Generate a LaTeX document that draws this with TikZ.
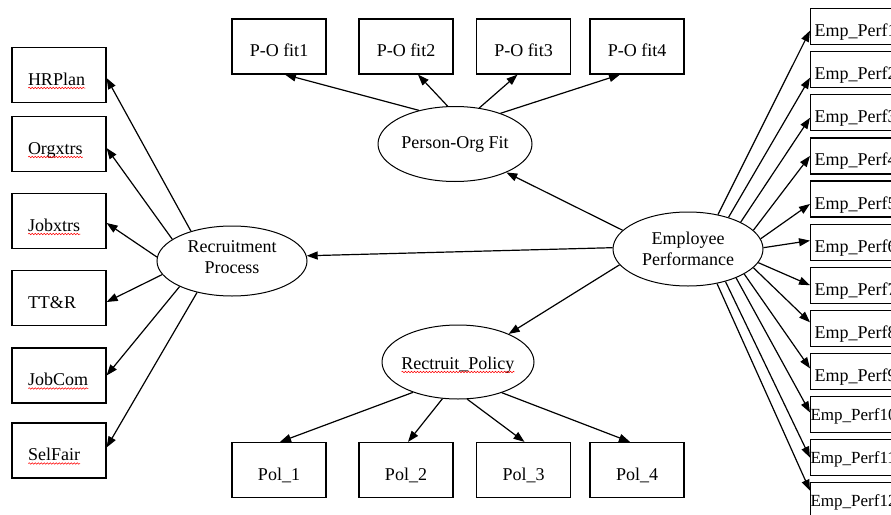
\documentclass[tikz,border=0pt]{standalone}
\usepackage{fontspec}
\setmainfont{Liberation Serif}
\usetikzlibrary{arrows.meta,shapes.geometric,decorations.pathmorphing}
\newlength\sqwlen
\newcommand\sqw[1]{\settowidth\sqwlen{#1}\rlap{#1}\tikz[baseline=0pt]{\draw[red,line width=0.5pt,decorate,decoration={snake,amplitude=0.8pt,segment length=3pt}] (0pt,-3pt) -- (\sqwlen,-3pt);}}
\begin{document}
\begin{tikzpicture}[x=1pt,y=-1pt,
  >={Triangle[length=11pt,width=8pt]},
  bx/.style={draw, line width=1.2pt, rectangle, inner ysep=0pt, text height=24pt, text depth=4pt, font=\fontsize{18}{22}\selectfont},
  lbox/.style={bx, minimum height=55pt, text width=62pt, inner xsep=16pt, align=left},
  tbox/.style={bx, minimum width=94pt, minimum height=55pt, inner xsep=2pt},
  ebox/.style={bx, minimum height=36pt, minimum width=100pt, text width=96pt, inner xsep=4pt, align=left, anchor=north west},
  esbox/.style={ebox, inner xsep=0pt, text width=104pt, text height=16pt, font=\fontsize{17}{20}\selectfont},
  lat/.style={draw, ellipse, line width=1pt, inner sep=0pt, align=center, font=\fontsize{18}{21}\selectfont},
  arr/.style={->, line width=1.2pt},
]
\useasboundingbox (0,0) rectangle (891,514);
\clip (0,0) rectangle (891,514);
\fill[white] (0,0) rectangle (891,514);

% latent variables
\node[lat, minimum width=150pt, minimum height=70pt, text depth=8pt] (rp) at (232,261) {Recruitment\\Process};
\node[lat, minimum width=154pt, minimum height=75pt] (pof) at (455,144) {Person-Org Fit};
\node[lat, minimum width=150pt, minimum height=74pt] (ep) at (688,249) {Employee\\Performance};
\node[lat, minimum width=152pt, minimum height=74pt, inner xsep=-4pt, text height=16pt, text depth=2pt] (pol) at (458,362) {\sqw{Rectruit\_Policy}};

% left indicators
\node[lbox] (hrplan) at (59,75) {\sqw{HRPlan}};
\node[lbox] (orgx) at (59,144) {\sqw{Orgxtrs}};
\node[lbox] (jobx) at (59,221) {\sqw{Jobxtrs}};
\node[lbox] (ttr) at (59,298) {TT\&R};
\node[lbox] (jobc) at (59,375.5) {\sqw{JobCom}};
\node[lbox] (self) at (59,450.5) {\sqw{SelFair}};

% top indicators
\node[tbox] (po1) at (279,46.5) {P-O fit1};
\node[tbox] (po2) at (406,46.5) {P-O fit2};
\node[tbox] (po3) at (523.5,46.5) {P-O fit3};
\node[tbox] (po4) at (637,46.5) {P-O fit4};

% bottom indicators
\node[tbox] (p1) at (279,470) {Pol\_1};
\node[tbox] (p2) at (406,470) {Pol\_2};
\node[tbox] (p3) at (523.5,470) {Pol\_3};
\node[tbox] (p4) at (637,470) {Pol\_4};

% right indicators
\foreach \i/\t in {1/8,2/51.1,3/94.2,4/137.3,5/180.4,6/223.5,7/266.6,8/309.7,9/352.8}
  \node[ebox] (e\i) at (810,\t) {Emp\_Perf\i};
\foreach \i/\t in {10/395.9,11/439,12/482.1}
  \node[esbox] (e\i) at (810,\t) {Emp\_Perf\i};

% arrows
\draw[arr] (rp.144) -- ([yshift=-3pt]hrplan.east);
\draw[arr] (rp.160) -- ([yshift=-4pt]orgx.east);
\draw[arr] (rp.177) -- ([yshift=-2pt]jobx.east);
\draw[arr] (rp.191) -- ([yshift=-4pt]ttr.east);
\draw[arr] (rp.206) -- (jobc.east);
\draw[arr] (rp.222) -- ([yshift=3pt]self.east);

\draw[arr] (pof.137) -- ([xshift=6pt]po1.south);
\draw[arr] (pof.101) -- ([xshift=12pt]po2.south);
\draw[arr] (pof.56) -- ([xshift=-6pt]po3.south);
\draw[arr] (pof.34) -- ([xshift=-17pt]po4.south);

\draw[arr] (pol.214) -- ([xshift=1pt]p1.north);
\draw[arr] (pol.247) -- ([xshift=2pt]p2.north);
\draw[arr] (pol.284) -- ([xshift=1pt]p3.north);
\draw[arr] (pol.325) -- ([xshift=-7pt]p4.north);

\draw[arr] (ep.164) -- (pof.-29);
\draw[arr] (ep.179) -- (rp.4);
\draw[arr] (ep.193) -- (pol.29);

\foreach \i/\a/\s in {1/49/-4,2/38/-8,3/27/-5,4/16/0,5/8/-5,6/1/1.5,7/-11/0,8/-16/6,9/-24/3,10/-31/2,11/-41/0,12/-50/10}
  \draw[arr] (ep.\a) -- ([yshift=\s pt]e\i.west);
\end{tikzpicture}
\end{document}
